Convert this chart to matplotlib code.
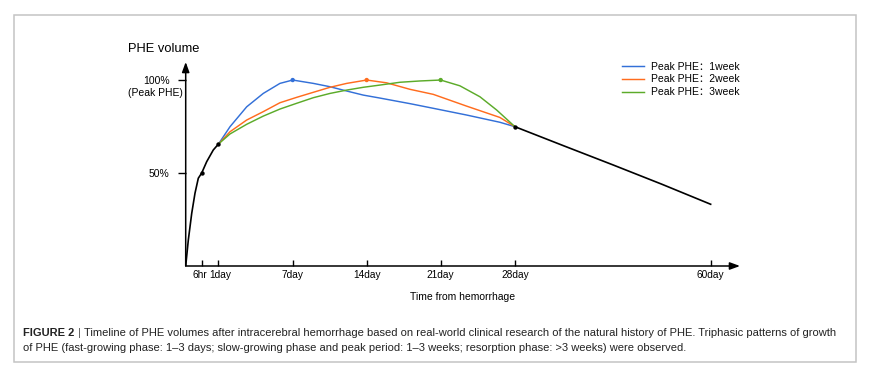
import numpy as np
import matplotlib
matplotlib.use("Agg")
import matplotlib.pyplot as plt
from matplotlib.patches import Rectangle
from matplotlib.scale import FuncScale
from matplotlib.transforms import ScaledTranslation

plt.rcParams['font.family'] = ['Liberation Sans', 'Noto Sans CJK SC', 'DejaVu Sans']

# ---------------- data (days after hemorrhage, % of peak PHE volume) ----------------
tick_days = [0.25, 1, 7, 14, 21, 28, 60]
tick_labels = ['6hr', '1day', '7day', '14day', '21day', '28day', '60day']
ytick_vals = [50, 100]
ytick_labels = ['50%', '100%']

early_days = [0, 0.041, 0.094, 0.145, 0.197, 0.25, 0.473, 0.768, 1]
early_vol = [0, 14.0, 28.3, 39.1, 47.2, 50, 56.1, 62.4, 65.6]

blue_days = [1, 1.93, 3.28, 4.62, 5.97, 7, 8.95, 10.53, 12.11, 13.68, 15.26, 18.10, 20.30, 23.43, 26.57, 28]
blue_vol = [65.6, 74.9, 85.6, 92.8, 98.2, 100, 98.2, 96.4, 94.1, 91.9, 90.3, 87.3, 84.8, 81.2, 77.3, 74.9]

orange_days = [1, 1.93, 3.28, 4.62, 5.97, 7.38, 8.95, 10.53, 12.11, 14, 15.89, 18.10, 20.30, 23.43, 26.57, 28]
orange_vol = [65.6, 72.2, 78.5, 83.0, 87.8, 90.7, 93.4, 96.1, 98.2, 100, 98.5, 95.0, 92.3, 86.0, 79.9, 74.9]

green_days = [1, 1.93, 3.28, 4.62, 5.97, 7.38, 8.95, 10.53, 12.11, 13.68, 15.26, 17.15, 19.04, 21, 22.81, 24.70, 26.27, 28]
green_vol = [65.6, 71.0, 76.2, 80.6, 84.4, 87.5, 90.5, 92.8, 94.6, 96.1, 97.3, 98.8, 99.5, 100, 96.9, 91.0, 83.9, 74.9]

late_days = [28, 36, 44, 52, 60]
late_vol = [74.9, 64.6, 54.4, 44.0, 33.2]

black_pt_days = [0.25, 1, 28]
black_pt_vol = [50, 65.6, 74.9]
peak_days = [7, 14, 21]
peak_vol = [100, 100, 100]

series_labels = ['Peak PHE\uff1a1week', 'Peak PHE\uff1a2week', 'Peak PHE\uff1a3week']
caption_head = 'FIGURE 2'
caption_l1 = ('Timeline of PHE volumes after intracerebral hemorrhage based on real-world clinical research '
              'of the natural history of PHE. Triphasic patterns of growth')
caption_l2 = ('of PHE (fast-growing phase: 1\u20133 days; slow-growing phase and peak period: 1\u20133 weeks; '
              'resorption phase: >3 weeks) were observed.')

# ---------------- styles ----------------
c_blue, c_orange, c_green = '#3370d8', '#ff6c1e', '#5cab2a'
W, H = 871, 370

# non-uniform time axis (piecewise-linear layout of the ticks)
knot_days = np.array([0, 0.25, 1, 7, 14, 21, 28, 60, 100])
knot_pos = np.array([0, 16, 32.8, 107, 181, 255, 329.3, 525, 769.6])
fwd = lambda d: np.interp(d, knot_days, knot_pos)
inv = lambda p: np.interp(p, knot_pos, knot_days)

fig = plt.figure(figsize=(W / 100, H / 100), dpi=100)
ax = fig.add_axes([185.7 / W, 1 - 266 / H, (740 - 185.7) / W, (266 - 62) / H])
ax.set_xscale(FuncScale(ax.xaxis, (fwd, inv)))
ax.set_xlim(0, 64.8)
ax.set_ylim(0, 109.7)

lw = 1.05
lb, = ax.plot(blue_days, blue_vol, color=c_blue, lw=lw, zorder=3, solid_joinstyle='round')
lo, = ax.plot(orange_days, orange_vol, color=c_orange, lw=lw, zorder=3, solid_joinstyle='round')
lg, = ax.plot(green_days, green_vol, color=c_green, lw=lw, zorder=3, solid_joinstyle='round')
ax.plot(early_days, early_vol, color='black', lw=1.2, zorder=4, solid_joinstyle='round')
ax.plot(late_days, late_vol, color='black', lw=1.2, zorder=4, solid_joinstyle='round')
ax.scatter(black_pt_days, black_pt_vol, s=10, color='black', zorder=6, linewidths=0)
ax.scatter(peak_days, peak_vol, s=10, color=[c_blue, c_orange, c_green], zorder=6, linewidths=0)

for s in ax.spines.values():
    s.set_visible(False)
arrow = dict(arrowstyle='-|>,head_length=0.6,head_width=0.22', lw=1.1, color='black',
             shrinkA=0, shrinkB=0, mutation_scale=10)
ax.annotate('', xy=(1, 0), xytext=(0, 0), xycoords='axes fraction', arrowprops=arrow)
ax.annotate('', xy=(0, 1), xytext=(0, 0), xycoords='axes fraction', arrowprops=arrow)

ax.set_xticks(tick_days)
ax.set_xticklabels(tick_labels)
ax.set_yticks(ytick_vals)
ax.set_yticklabels(ytick_labels)
ax.xaxis.set_minor_locator(matplotlib.ticker.NullLocator())
ax.tick_params(axis='x', direction='in', length=4.3, width=1.0, pad=3, labelsize=7.3)
ax.tick_params(axis='y', direction='out', length=5.5, width=1.0, pad=6, labelsize=7.5)
ax.set_xlabel('Time from hemorrhage', fontsize=7.5, labelpad=8.5)

# nudge the two crowded labels (6hr / 1day) apart slightly
xt_labels = ax.get_xticklabels()
for lab, dx in ((xt_labels[0], -1.3), (xt_labels[1], 1.3)):
    lab.set_transform(lab.get_transform() + ScaledTranslation(dx / 72, 0, fig.dpi_scale_trans))

ax.annotate('(Peak PHE)', xy=(0, 100), xycoords=('axes fraction', 'data'), xytext=(-2.2, -9.1),
            textcoords='offset points', ha='right', va='center', fontsize=7.5, annotation_clip=False)
fig.text(164 / W, 1 - 49 / H, 'PHE volume', ha='center', va='center', fontsize=9.3)

ax.legend([lb, lo, lg], series_labels, loc='upper left', bbox_to_anchor=(621.7 / W, 1 - 61.5 / H),
          bbox_transform=fig.transFigure, frameon=False, fontsize=7.5, borderpad=0, borderaxespad=0,
          handlelength=2.1, handletextpad=0.74, labelspacing=0.28)

# frame and caption
fig.add_artist(Rectangle((14.3 / W, 1 - 362.3 / H), (855.7 - 14.3) / W, (362.3 - 14.7) / H,
                         transform=fig.transFigure, fill=False, ec='#c4c4c4', lw=1.1))
cap_fs = 8.0
cap_col = '#222222'
t1 = fig.text(22.7 / W, 1 - 333.3 / H, caption_head, fontweight='bold', fontsize=cap_fs,
              va='center', ha='left', color=cap_col)
t2 = ax.annotate('|', xy=(1, 0.5), xycoords=t1, xytext=(2.5, 0), textcoords='offset points',
                 ha='left', va='center', fontsize=cap_fs, color='#555555', annotation_clip=False)
ax.annotate(caption_l1, xy=(1, 0.5), xycoords=t2, xytext=(2.5, 0), textcoords='offset points',
            ha='left', va='center', fontsize=cap_fs, color=cap_col, annotation_clip=False)
fig.text(22.7 / W, 1 - 347.7 / H, caption_l2, fontsize=cap_fs, va='center', ha='left', color=cap_col)

fig.savefig('out.png', dpi=100)
